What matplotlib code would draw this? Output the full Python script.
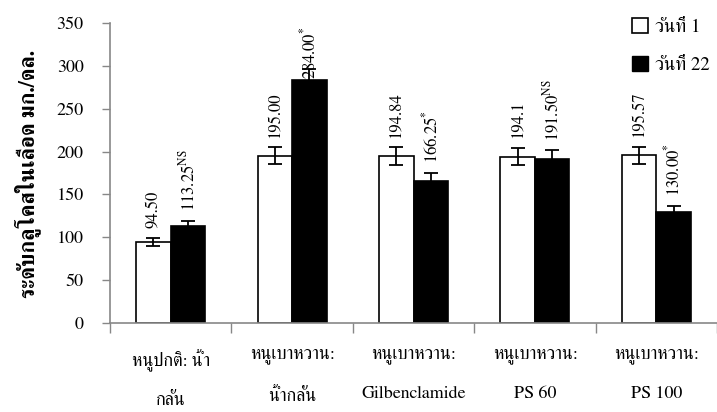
import numpy as np
import matplotlib
matplotlib.use("Agg")
import matplotlib.pyplot as plt
from matplotlib.patches import Patch

plt.rcParams['font.family'] = ['FreeSerif', 'DejaVu Sans']
plt.rcParams['mathtext.fontset'] = 'custom'
plt.rcParams['mathtext.rm'] = 'FreeSerif'

groups = ['หนูปกติ: น้ำ\nกลั่น', 'หนูเบาหวาน:\nน้ำกลั่น', 'หนูเบาหวาน:\nGilbenclamide',
          'หนูเบาหวาน:\nPS 60', 'หนูเบาหวาน:\nPS 100']
day1 = [94.50, 195.00, 194.84, 194.1, 195.57]
day22 = [113.25, 284.00, 166.25, 191.50, 130.00]
err1 = [5, 10, 10, 10, 10]
err22 = [6, 12, 9, 10, 6.5]
lab1 = ['94.50', '195.00', '194.84', '194.1', '195.57']
lab22 = ['113.25', '284.00', '166.25', '191.50', '130.00']
sig22 = ['NS', '*', '*', 'NS', '*']
series = ['วันที่ 1', 'วันที่ 22']

fig = plt.figure(figsize=(7.17, 4.12), dpi=100)
ax = fig.add_axes([110 / 717, 1 - 323 / 412, 607 / 717, 300 / 412])

x = np.arange(len(groups))
w = 0.285
ekw = dict(elinewidth=1.3, capthick=1.3, ecolor='black')
ax.bar(x - w / 2, day1, w, color='white', edgecolor='black', linewidth=1.2,
       yerr=err1, capsize=5, error_kw=ekw)
ax.bar(x + w / 2, day22, w, color='black', edgecolor='black', linewidth=1.2,
       yerr=err22, capsize=5, error_kw=ekw)

ymax = 350
# ป้ายค่าเหนือแท่ง (หมุน 90 องศา)
for i in x:
    y1 = min(day1[i] + err1[i], ymax * 0.78)
    ax.annotate(lab1[i], (i - w / 2, y1), xytext=(0, 7), textcoords='offset points',
                rotation=90, ha='center', va='bottom', fontsize=12)
    y2 = min(day22[i] + err22[i], ymax * 0.78)
    ax.annotate(lab22[i] + r'$^{\mathrm{%s}}$' % sig22[i], (i + w / 2, y2), xytext=(0, 7),
                textcoords='offset points', rotation=90, ha='center', va='bottom', fontsize=12)

ax.set_ylim(0, ymax)
ax.set_xlim(-0.5, len(groups) - 0.5)
ax.set_yticks(np.arange(0, 351, 50))
ax.tick_params(axis='y', direction='out', length=6, color='#878787', width=1,
               labelsize=13, pad=13)

ax.set_xticks(np.arange(-0.5, len(groups)), minor=False)
ax.set_xticklabels([])
ax.set_xticks(x, minor=True)
ax.set_xticklabels(groups, minor=True, fontsize=13, linespacing=2.85)
ax.tick_params(axis='x', which='major', direction='out', length=7, color='#878787', width=1)
ax.tick_params(axis='x', which='minor', length=0, pad=18)

for s in ['top', 'right']:
    ax.spines[s].set_visible(False)
for s in ['left', 'bottom']:
    ax.spines[s].set_color('#878787')
    ax.spines[s].set_linewidth(1.2)

fig.text(0.039, 0.578, 'ระดับกลูโคสในเลือด มก./ดล.', rotation=90, ha='center', va='center',
         fontsize=15.5, fontweight='bold')

handles = [Patch(facecolor='white', edgecolor='black', linewidth=1.2),
           Patch(facecolor='black', edgecolor='black')]
fig.legend(handles, series, loc='upper left', bbox_to_anchor=(632 / 717, 1 - 18 / 412),
           frameon=False, fontsize=13.5, handlelength=0.85, handleheight=0.85,
           handletextpad=0.4, labelspacing=1.05, borderaxespad=0, borderpad=0)

fig.savefig('out.png')
